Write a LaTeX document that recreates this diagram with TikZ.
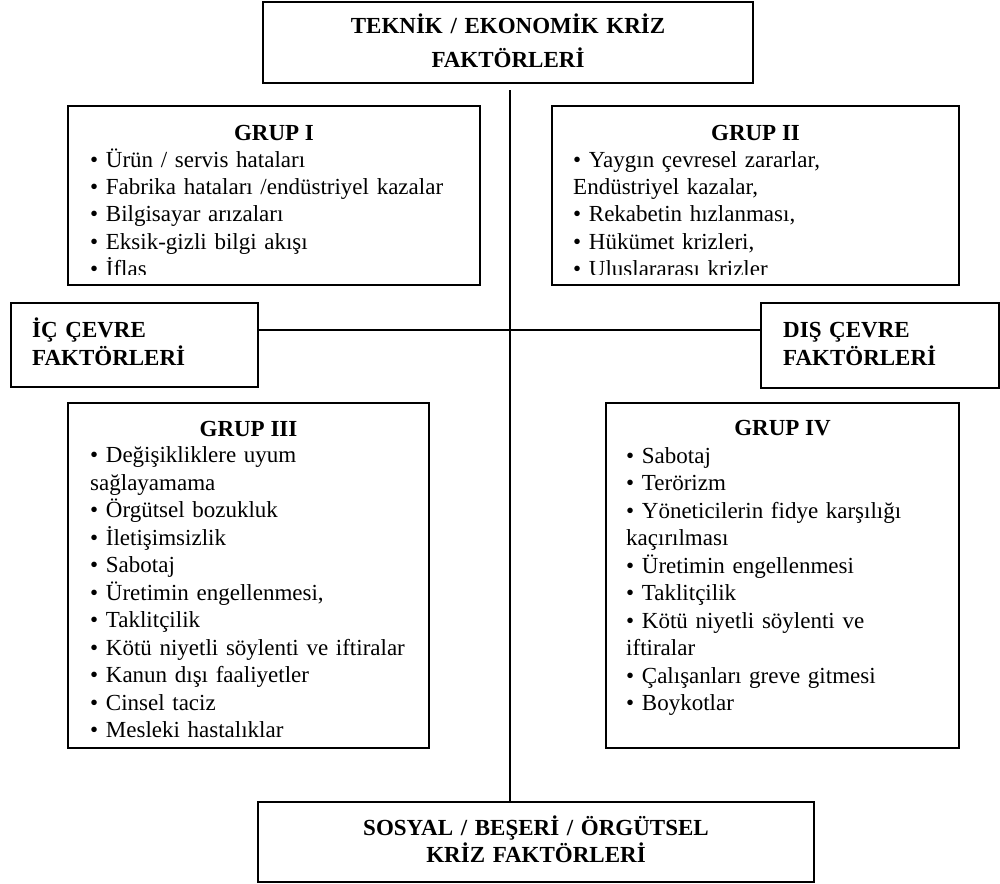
\documentclass[tikz,border=0pt]{standalone}
\usepackage{fontspec}
\setmainfont{Liberation Serif}
\begin{document}
\begin{tikzpicture}[x=1pt,y=-1pt,
  box/.style={draw=black,line width=1.7pt,inner sep=0pt,rectangle},
  conn/.style={draw=black,line width=1.5pt},
  ttl/.style={inner sep=0pt,anchor=base,font=\fontsize{23}{27.5}\selectfont\bfseries},
  lst/.style={inner sep=0pt,anchor=base west,text width=390pt,align=left,font=\fontsize{23}{27.5}\selectfont}]
\useasboundingbox (0,0) rectangle (1000,883);
% boxes
\node[box,minimum width=490pt,minimum height=81pt] (top) at (508,42.5) {};
\node[box,minimum width=412pt,minimum height=179pt] (g1) at (274,195.5) {};
\node[box,minimum width=407pt,minimum height=179pt] (g2) at (755.5,195.5) {};
\node[box,minimum width=247pt,minimum height=84pt] (ic) at (134.5,345) {};
\node[box,minimum width=238pt,minimum height=85pt] (dis) at (880,345.5) {};
\node[box,minimum width=361pt,minimum height=345pt] (g3) at (248.5,575.5) {};
\node[box,minimum width=353pt,minimum height=345pt] (g4) at (782.5,575.5) {};
\node[box,minimum width=556pt,minimum height=80pt] (bot) at (536,842) {};
% connectors
\coordinate (vtop) at (510,90);
\coordinate (hl) at (510,330);
\draw[conn] (vtop) -- (vtop |- bot.north);
\draw[conn] (hl -| ic.east) -- (hl -| dis.west);
% texts
\node[ttl,text width=480pt,align=center,font=\fontsize{23}{34}\selectfont\bfseries] (toptxt) at (508,34) {TEKNİK / EKONOMİK KRİZ\\FAKTÖRLERİ};
\node[ttl] (g1t) at (274,140) {GRUP I};
\begin{scope}
\clip (68,106) rectangle (480,274);
\node[lst,font=\fontsize{23}{27.2}\selectfont] (g1l) at (90,167.5) {• Ürün / servis hataları\\• Fabrika hataları /endüstriyel kazalar\\• Bilgisayar arızaları\\• Eksik-gizli bilgi akışı\\• İflas};
\end{scope}
\node[ttl] (g2t) at (755.5,140) {GRUP II};
\begin{scope}
\clip (552,106) rectangle (959,274);
\node[lst,font=\fontsize{23}{27.2}\selectfont] (g2l) at (573,167.5) {• Yaygın çevresel zararlar,\\Endüstriyel kazalar,\\• Rekabetin hızlanması,\\• Hükümet krizleri,\\• Uluslararası krizler};
\end{scope}
\node[lst,font=\fontsize{23}{28}\selectfont\bfseries] (ict) at (32,337) {İÇ ÇEVRE\\FAKTÖRLERİ};
\node[lst,font=\fontsize{23}{28}\selectfont\bfseries] (dist) at (783,337) {DIŞ ÇEVRE\\FAKTÖRLERİ};
\node[ttl] (g3t) at (248.5,436) {GRUP III};
\node[lst] (g3l) at (90,462.5) {• Değişikliklere uyum\\sağlayamama\\• Örgütsel bozukluk\\• İletişimsizlik\\• Sabotaj\\• Üretimin engellenmesi,\\• Taklitçilik\\• Kötü niyetli söylenti ve iftiralar\\• Kanun dışı faaliyetler\\• Cinsel taciz\\• Mesleki hastalıklar};
\node[ttl] (g4t) at (782.5,435.5) {GRUP IV};
\node[lst] (g4l) at (626,463) {• Sabotaj\\• Terörizm\\• Yöneticilerin fidye karşılığı\\kaçırılması\\• Üretimin engellenmesi\\• Taklitçilik\\• Kötü niyetli söylenti ve\\iftiralar\\• Çalışanları greve gitmesi\\• Boykotlar};
\node[ttl,text width=540pt,align=center,font=\fontsize{23}{27}\selectfont\bfseries] (bottxt) at (536,835) {SOSYAL / BEŞERİ / ÖRGÜTSEL\\KRİZ FAKTÖRLERİ};
\end{tikzpicture}
\end{document}
